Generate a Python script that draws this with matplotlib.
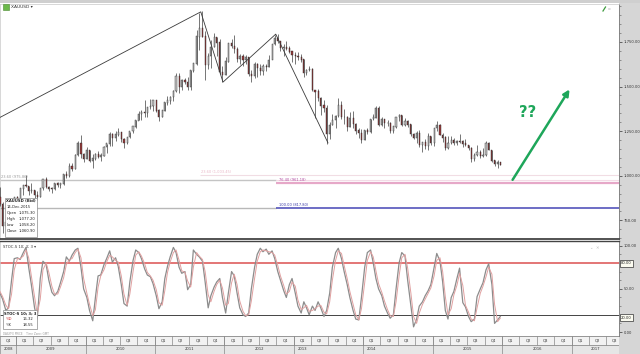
import numpy as np
import pandas as pd
import matplotlib
matplotlib.use('Agg')
import matplotlib.pyplot as plt
import matplotlib.dates as mdates
from matplotlib.ticker import FuncFormatter, MultipleLocator, FixedLocator
from matplotlib.patches import Rectangle
from datetime import datetime

# XAUUSD, semi-monthly candles Oct 2008 - Dec 2015
close = [840, 718, 740, 815, 835, 880,
         808, 927, 945, 942, 915, 916, 890, 883, 930, 979, 935, 927,
         925, 955, 948, 955, 1005, 1000, 1050, 1040, 1115, 1180, 1120, 1096,
         1140, 1083, 1095, 1118, 1105, 1113, 1160, 1180, 1230, 1213, 1230, 1244,
         1205, 1181, 1215, 1248, 1275, 1308, 1345, 1357, 1350, 1386, 1390, 1421,
         1365, 1332, 1365, 1410, 1420, 1439, 1475, 1556, 1495, 1536, 1525, 1500,
         1590, 1628, 1780, 1825, 1780, 1620, 1670, 1722, 1775, 1746, 1580, 1565,
         1640, 1740, 1725, 1710, 1657, 1668, 1650, 1664, 1570, 1561, 1625, 1604,
         1590, 1614, 1610, 1648, 1738, 1773, 1755, 1719, 1722, 1712, 1695, 1675,
         1670, 1663, 1650, 1578, 1592, 1596, 1480, 1472, 1435, 1393, 1380, 1234,
         1285, 1313, 1335, 1396, 1330, 1327, 1275, 1323, 1288, 1253, 1240, 1202,
         1252, 1244, 1318, 1326, 1380, 1284, 1318, 1296, 1293, 1250, 1275, 1327,
         1337, 1282, 1305, 1287, 1234, 1210, 1238, 1171, 1188, 1167, 1222, 1184,
         1265, 1283, 1228, 1213, 1158, 1183, 1198, 1184, 1193, 1190, 1180, 1172,
         1155, 1095, 1114, 1132, 1108, 1115, 1182, 1142, 1084, 1065, 1075, 1061]
high = [935, 850, 760, 830, 840, 880,
        885, 930, 950, 1005, 945, 960, 920, 915, 930, 980, 990, 945,
        935, 960, 965, 960, 1010, 1025, 1070, 1070, 1120, 1195, 1227, 1130,
        1160, 1145, 1120, 1125, 1140, 1125, 1165, 1180, 1245, 1240, 1250, 1265,
        1245, 1210, 1215, 1245, 1275, 1310, 1365, 1370, 1425, 1385, 1432, 1425,
        1425, 1375, 1370, 1415, 1445, 1448, 1480, 1575, 1577, 1540, 1550, 1555,
        1595, 1632, 1815, 1911, 1921, 1810, 1690, 1760, 1802, 1780, 1765, 1615,
        1665, 1745, 1765, 1790, 1720, 1680, 1680, 1675, 1665, 1595, 1640, 1630,
        1625, 1625, 1625, 1675, 1740, 1790, 1796, 1745, 1740, 1755, 1725, 1700,
        1695, 1695, 1685, 1655, 1600, 1616, 1605, 1480, 1488, 1440, 1425, 1395,
        1300, 1348, 1340, 1433, 1420, 1375, 1335, 1360, 1365, 1295, 1265, 1260,
        1255, 1270, 1320, 1345, 1392, 1392, 1331, 1320, 1315, 1300, 1280, 1332,
        1345, 1340, 1322, 1310, 1290, 1240, 1250, 1255, 1190, 1208, 1238, 1225,
        1270, 1307, 1290, 1240, 1220, 1220, 1225, 1210, 1200, 1232, 1200, 1205,
        1175, 1160, 1125, 1170, 1145, 1157, 1192, 1191, 1145, 1090, 1090, 1077]
low = [830, 681, 705, 730, 765, 830,
       805, 808, 890, 935, 890, 905, 865, 865, 880, 920, 930, 915,
       905, 920, 935, 930, 950, 985, 995, 1025, 1040, 1110, 1100, 1075,
       1095, 1075, 1045, 1090, 1100, 1085, 1110, 1130, 1165, 1165, 1195, 1225,
       1190, 1155, 1180, 1210, 1240, 1265, 1310, 1315, 1330, 1330, 1375, 1365,
       1360, 1308, 1330, 1365, 1395, 1400, 1420, 1470, 1462, 1480, 1515, 1478,
       1480, 1580, 1620, 1705, 1780, 1535, 1600, 1605, 1720, 1670, 1570, 1523,
       1565, 1640, 1715, 1690, 1640, 1627, 1613, 1625, 1560, 1527, 1550, 1555,
       1565, 1565, 1585, 1610, 1685, 1735, 1745, 1700, 1672, 1705, 1690, 1635,
       1625, 1650, 1640, 1555, 1565, 1585, 1475, 1321, 1420, 1338, 1360, 1180,
       1207, 1285, 1270, 1330, 1320, 1290, 1251, 1275, 1270, 1235, 1210, 1182,
       1202, 1235, 1240, 1310, 1325, 1277, 1277, 1268, 1280, 1240, 1240, 1270,
       1305, 1280, 1280, 1273, 1225, 1205, 1183, 1160, 1131, 1150, 1142, 1170,
       1167, 1250, 1230, 1190, 1142, 1150, 1180, 1175, 1170, 1185, 1162, 1168,
       1145, 1077, 1080, 1112, 1098, 1105, 1112, 1142, 1075, 1052, 1046, 1058]
first_open = 880

stoch_k = [45, 38, 25, 28, 60, 85, 86, 84, 92, 98,
           75, 55, 28, 15, 62, 82, 78, 60, 46, 42,
           47, 57, 70, 87, 82, 89, 95, 97, 75, 50,
           40, 25, 13, 40, 65, 66, 78, 85, 94, 81,
           86, 76, 55, 33, 30, 58, 83, 95, 92, 85,
           73, 66, 64, 56, 42, 27, 35, 62, 76, 87,
           98, 92, 75, 68, 70, 49, 55, 95, 90, 87,
           82, 58, 28, 42, 52, 58, 62, 40, 22, 45,
           70, 65, 45, 28, 20, 18, 22, 50, 75, 90,
           97, 93, 96, 90, 94, 85, 70, 60, 48, 40,
           55, 62, 45, 30, 22, 35, 28, 20, 30, 25,
           35, 28, 18, 25, 45, 75, 92, 97, 85, 70,
           55, 40, 25, 15, 14, 40, 75, 92, 95, 80,
           62, 50, 42, 30, 22, 16, 20, 50, 80, 92,
           88, 60, 30, 6, 15, 30, 35, 42, 48, 55,
           75, 91, 82, 58, 25, 15, 40, 47, 62, 74,
           34, 29, 18, 12, 15, 41, 50, 57, 72, 79,
           55, 10, 14, 18]
stoch_d = [47, 41, 31, 27, 44, 72, 85, 85, 88, 95,
           86, 65, 41, 21, 38, 72, 80, 69, 53, 44,
           44, 52, 63, 78, 84, 85, 92, 96, 86, 62,
           45, 32, 19, 26, 52, 65, 72, 81, 89, 87,
           83, 81, 65, 44, 31, 44, 70, 89, 93, 88,
           79, 69, 65, 60, 49, 34, 31, 48, 69, 81,
           92, 95, 83, 71, 69, 59, 52, 75, 92, 88,
           84, 70, 43, 35, 47, 55, 60, 51, 31, 33,
           57, 67, 55, 36, 24, 19, 20, 36, 62, 82,
           93, 95, 94, 93, 92, 89, 77, 65, 54, 44,
           47, 58, 53, 37, 26, 28, 31, 24, 25, 27,
           30, 31, 23, 21, 35, 60, 83, 94, 91, 77,
           62, 47, 32, 20, 14, 27, 57, 83, 93, 87,
           71, 56, 46, 36, 26, 19, 18, 35, 65, 86,
           90, 74, 45, 18, 10, 22, 32, 38, 45, 51,
           65, 83, 86, 70, 41, 20, 27, 43, 54, 68,
           54, 31, 23, 15, 13, 28, 45, 53, 64, 75,
           67, 32, 12, 16]

# drawings on the chart (fractional year, price)
zigzag_t = [2008.77, 2011.66, 2011.98, 2012.74, 2013.49]
zigzag_p = [1327, 1919, 1525, 1794, 1184]
arrow_t = [2016.15, 2016.97]
arrow_p = [977, 1484]
fib_old = 975.86
fib_top = 1003.45
fib_764 = 961.18
fib_100 = 817.80

W, H = 640, 354


def fx(px):
    return px / W


def fyp(py):
    return 1 - py / H


def yr2num(t):
    y = int(t)
    return mdates.date2num(datetime(y, 1, 1)) + (t - y) * 365.25


dates = pd.date_range('2008-10-01', periods=len(close), freq='SMS') + pd.Timedelta(days=7)
x = mdates.date2num(dates.to_pydatetime())
opens = np.array([first_open] + close[:-1], dtype=float)
close_a = np.array(close, dtype=float)
high_a = np.array(high, dtype=float)
low_a = np.array(low, dtype=float)

xmin, xmax = yr2num(2008.77), yr2num(2017.68)

fig = plt.figure(figsize=(6.4, 3.54), dpi=100)
fig.patch.set_facecolor('white')

# grey right column and top bar
fig.patches.append(Rectangle((fx(619), 0), fx(21), 1, transform=fig.transFigure,
                             facecolor='#d6d6d6', edgecolor='none', zorder=-1))
fig.patches.append(Rectangle((0, fyp(3)), 1, 3 / H, transform=fig.transFigure,
                             facecolor='#cfcfcf', edgecolor='none', zorder=-1))

# ---- price panel
ax = fig.add_axes([0, fyp(239), fx(619), 235 / H])
ax.set_xlim(xmin, xmax)
ax.set_ylim(645, 1963)

up = close_a >= opens
ax.vlines(x, low_a, high_a, color='#2a2a2a', lw=0.45, zorder=3)
ax.bar(x[up], np.abs(close_a - opens)[up] + 2, bottom=np.minimum(opens, close_a)[up],
       width=6, color='#c4c4c4', edgecolor='#2a2a2a', linewidth=0.3, zorder=4)
ax.bar(x[~up], np.abs(close_a - opens)[~up] + 2, bottom=np.minimum(opens, close_a)[~up],
       width=6, color='#9a3a3a', edgecolor='#2a2a2a', linewidth=0.3, zorder=4)

ax.plot([yr2num(t) for t in zigzag_t], zigzag_p, color='#3a3a3a', lw=0.6, zorder=5)

# fibonacci levels
split = yr2num(2012.74)
ax.hlines(fib_old, xmin, split, color='#c4c4c4', lw=1.0, zorder=2)
ax.hlines(fib_100, xmin, split, color='#b8b8b8', lw=1.0, zorder=2)
ax.hlines(fib_top, yr2num(2011.65), xmax, color='#f1dde4', lw=0.8, zorder=2)
ax.hlines(fib_764, split, xmax, color='#e6a8c8', lw=1.6, zorder=2)
ax.hlines(fib_764 + 12, split, xmax, color='#f3dbe6', lw=0.8, zorder=2)
ax.hlines(fib_100, split, xmax, color='#4545b5', lw=1.1, zorder=2)
ax.text(xmin + 5, fib_old + 8, '23.60 (975.86)', fontsize=2.6, color='#9a9a9a', va='bottom')
ax.text(yr2num(2011.67), fib_top + 6, '23.60 (1,003.45)', fontsize=2.6, color='#eab8c8', va='bottom')
ax.text(split + 15, fib_764 + 6, '76.40 (961.18)', fontsize=2.6, color='#b04aa0', va='bottom')
ax.text(split + 15, fib_100 + 6, '100.00 (817.80)', fontsize=2.6, color='#3a3aa8', va='bottom')

ax.annotate('', xy=(yr2num(arrow_t[1]), arrow_p[1]), xytext=(yr2num(arrow_t[0]), arrow_p[0]),
            arrowprops=dict(arrowstyle='-|>', color='#1ea65a', lw=1.8, mutation_scale=9,
                            shrinkA=0, shrinkB=0), zorder=6)
ax.text(yr2num(2016.36), 1355, '??', fontsize=10.5, fontweight='bold', color='#1ea65a',
        ha='center', va='center')

ax.yaxis.tick_right()
ax.yaxis.set_major_locator(FixedLocator([750, 1000, 1250, 1500, 1750]))
ax.yaxis.set_minor_locator(MultipleLocator(50))
ax.yaxis.set_major_formatter(FuncFormatter(lambda v, p: f'{v:,.2f}'))
ax.tick_params(axis='y', which='major', direction='out', length=2, width=0.5, pad=1.2,
               labelsize=2.7, colors='#333333')
ax.tick_params(axis='y', which='minor', direction='out', length=1.2, width=0.4, colors='#555555')
ax.set_xticks([])
for s in ['top', 'left']:
    ax.spines[s].set_color('#c8c8c8')
    ax.spines[s].set_linewidth(0.5)
ax.spines['right'].set_color('#777777')
ax.spines['right'].set_linewidth(0.6)
ax.spines['bottom'].set_color('#444444')
ax.spines['bottom'].set_linewidth(1.3)

# ---- stochastic panel
ast = fig.add_axes([0, fyp(336), fx(619), 95 / H])
ast.set_xlim(xmin, xmax)
ast.set_ylim(-4.6, 105.4)
ast.axhline(80, color='#e06a6a', lw=1.3, zorder=2)
ast.axhline(20, color='#444444', lw=0.7, zorder=2)
ast.plot(x, stoch_k, color='#8c8c8c', lw=0.9, zorder=3)
ast.plot(x, stoch_d, color='#e0a0a0', lw=0.7, zorder=4)
ast.yaxis.tick_right()
ast.yaxis.set_major_locator(FixedLocator([0, 50, 100]))
ast.yaxis.set_minor_locator(MultipleLocator(10))
ast.yaxis.set_major_formatter(FuncFormatter(lambda v, p: f'{v:.2f}'))
ast.tick_params(axis='y', which='major', direction='out', length=2, width=0.5, pad=1.2,
                labelsize=2.7, colors='#333333')
ast.tick_params(axis='y', which='minor', direction='out', length=1.2, width=0.4, colors='#555555')
ast.set_xticks([])
ast.spines['top'].set_color('#444444')
ast.spines['top'].set_linewidth(1.0)
ast.spines['left'].set_color('#c8c8c8')
ast.spines['left'].set_linewidth(0.5)
ast.spines['right'].set_color('#777777')
ast.spines['right'].set_linewidth(0.6)
ast.spines['bottom'].set_color('#777777')
ast.spines['bottom'].set_linewidth(0.6)

for lvl, py in [('80.00', 263.3), ('20.00', 317.7)]:
    fig.text(fx(621), fyp(py), lvl, fontsize=2.7, color='#222222', va='center',
             bbox=dict(boxstyle='square,pad=0.35', facecolor='#fbfbf0', edgecolor='#333333', lw=0.5))

# ---- date band
adt = fig.add_axes([0, 0, fx(619), 18 / H])
adt.set_xlim(xmin, xmax)
adt.set_ylim(0, 2)
adt.axis('off')
adt.add_patch(Rectangle((xmin, 1), xmax - xmin, 1, facecolor='#f2f2f2', edgecolor='#888888', lw=0.5))
adt.add_patch(Rectangle((xmin, 0), xmax - xmin, 1, facecolor='#e6e6e6', edgecolor='#888888', lw=0.5))
year_align = {2013: 'left', 2014: 'left'}
for yy in range(2008, 2018):
    y0 = mdates.date2num(datetime(yy, 1, 1))
    y1 = mdates.date2num(datetime(yy + 1, 1, 1))
    adt.vlines(y0, 0, 2, color='#888888', lw=0.5)
    if yy == 2008:
        xc = (xmin + y1) / 2
    elif yy == 2017:
        xc = (y0 + xmax) / 2
    else:
        xc = (y0 + y1) / 2
    if year_align.get(yy) == 'left':
        adt.text(y0 + 20, 0.5, str(yy), fontsize=2.7, color='#333333', ha='left', va='center')
    else:
        adt.text(xc, 0.5, str(yy), fontsize=2.7, color='#333333', ha='center', va='center')
    for q in range(4):
        q0 = mdates.date2num(datetime(yy, 3 * q + 1, 1))
        q1 = mdates.date2num(datetime(yy + 1, 1, 1)) if q == 3 else mdates.date2num(datetime(yy, 3 * q + 4, 1))
        if q1 <= xmin:
            continue
        adt.vlines(q0, 1, 2, color='#888888', lw=0.5)
        adt.text((max(q0, xmin) + q1) / 2, 1.5, f'Q{q + 1}', fontsize=2.7, color='#333333',
                 ha='center', va='center', clip_on=True)

# ---- labels and boxes
fig.patches.append(Rectangle((fx(3), fyp(10)), fx(6), 6 / H, transform=fig.transFigure,
                             facecolor='#6cb94a', edgecolor='#4a8a30', lw=0.4, zorder=5))
fig.text(fx(11), fyp(7.5), 'XAUUSD ▾', fontsize=3.2, color='#333333', va='center')
fig.lines.append(plt.Line2D([fx(603), fx(605.5)], [fyp(11), fyp(7)], transform=fig.transFigure,
                            color='#3c9a3c', lw=0.9))
fig.text(fx(608), fyp(9), '▫', fontsize=3, color='#c0c0c0', va='center')
fig.text(fx(590), fyp(248), '⌄  ✕', fontsize=3, color='#bbbbbb', va='center')
fig.text(fx(3), fyp(246.5), 'STOC-S 10; 3; 3 ▾', fontsize=2.7, color='#333333', va='center')

# data tooltip
fig.patches.append(Rectangle((fx(5), fyp(237)), fx(31.7), 39.3 / H, transform=fig.transFigure,
                             facecolor='white', edgecolor='#8a8a8a', lw=0.5, zorder=5))
tip_rows = [('XAUUSD (Bid)', ''), ('14-Dec-2015', ''), ('Open', '1,075.30'),
            ('High', '1,077.20'), ('Low', '1,058.20'), ('Close', '1,060.90')]
for i, (a, b) in enumerate(tip_rows):
    py = 201 + i * 5.9
    fig.text(fx(6.5), fyp(py), a, fontsize=2.7, color='#222222', va='center', zorder=6,
             fontweight='bold' if i == 0 else 'normal')
    if b:
        fig.text(fx(35.5), fyp(py), b, fontsize=2.7, color='#222222', va='center', ha='right', zorder=6)

# stochastic legend box
fig.patches.append(Rectangle((fx(3.3), fyp(329.3)), fx(33.4), 19.3 / H, transform=fig.transFigure,
                             facecolor='white', edgecolor='#8a8a8a', lw=0.5, zorder=5))
fig.text(fx(4.5), fyp(313.5), 'STOC-S 10; 3; 3', fontsize=2.7, color='#222222', va='center',
         fontweight='bold', zorder=6)
fig.text(fx(6), fyp(319.5), '%D', fontsize=2.7, color='#d04040', va='center', zorder=6)
fig.text(fx(33), fyp(319.5), '16.32', fontsize=2.7, color='#222222', va='center', ha='right', zorder=6)
fig.text(fx(6), fyp(325.5), '%K', fontsize=2.7, color='#555555', va='center', zorder=6)
fig.text(fx(33), fyp(325.5), '18.55', fontsize=2.7, color='#222222', va='center', ha='right', zorder=6)
fig.text(fx(3), fyp(333.8), 'DAILYFX PRICE    Time Zone: GMT', fontsize=2.0, color='#999999', va='center')

fig.savefig('out.png', dpi=100)
